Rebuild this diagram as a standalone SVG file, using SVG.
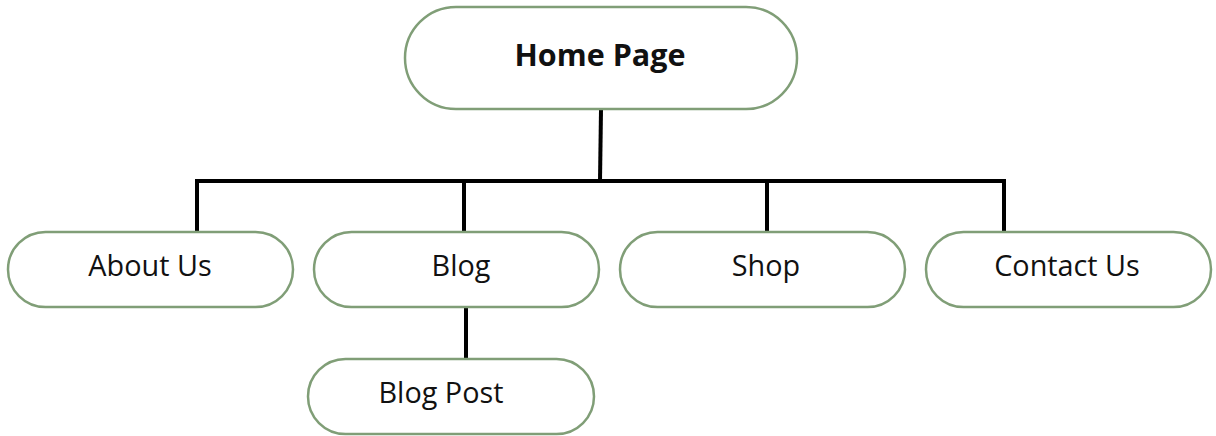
<svg xmlns="http://www.w3.org/2000/svg" width="1216" height="436" viewBox="0 0 1216 436">
<style>
.box{fill:#fff;stroke:#809e77;stroke-width:2.5}
.lbl{font-family:"Open Sans","Noto Sans","Liberation Sans",sans-serif;font-size:28.8px;fill:#111;text-anchor:middle}
.bold{font-weight:bold;font-size:30.5px}
.conn{stroke:#000;stroke-width:4;fill:none;stroke-linecap:square}
</style>
<rect width="1216" height="436" fill="#fff"/>
<g id="connectors">
<path class="conn" d="M601 110 L600 181"/>
<path class="conn" d="M197 181 L1003 181"/>
<path class="conn" d="M197 181 L197 231"/>
<path class="conn" d="M464 181 L464 231"/>
<path class="conn" d="M767 181 L767 231"/>
<path class="conn" d="M1004 181 L1004 231"/>
<path class="conn" d="M466 308 L466 358"/>
</g>
<g id="home">
<rect class="box" x="405" y="7" width="392" height="102" rx="51"/>
<text class="lbl bold" x="600" y="66">Home Page</text>
</g>
<g id="about">
<rect class="box" x="8" y="232" width="285" height="75" rx="37.5"/>
<text class="lbl" x="150" y="276">About Us</text>
</g>
<g id="blog">
<rect class="box" x="314" y="232" width="285" height="75" rx="37.5"/>
<text class="lbl" x="461" y="276">Blog</text>
</g>
<g id="shop">
<rect class="box" x="620" y="232" width="285" height="75" rx="37.5"/>
<text class="lbl" x="766" y="276">Shop</text>
</g>
<g id="contact">
<rect class="box" x="926" y="232" width="285" height="75" rx="37.5"/>
<text class="lbl" x="1067" y="276">Contact Us</text>
</g>
<g id="blogpost">
<rect class="box" x="308" y="359" width="286" height="75" rx="37.5"/>
<text class="lbl" x="441" y="403">Blog Post</text>
</g>
</svg>
